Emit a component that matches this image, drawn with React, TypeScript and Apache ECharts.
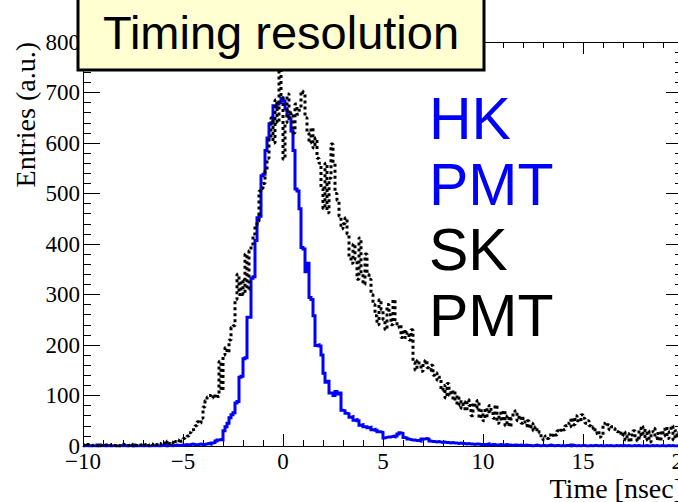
import React, { useEffect, useRef } from "react";
import * as echarts from "echarts";

// Histogram binning (ns)
const BIN_START = -10;
const BIN_WIDTH = 0.1;

// HK PMT (blue) entries per 0.1 ns bin, from -10 ns to 20 ns
const HK_PMT = [
  0, 1, 0, 0, 1, 0, 0, 2, 0, 1,
  0, 0, 1, 0, 0, 1, 0, 0, 1, 0,
  1, 0, 0, 1, 0, 2, 0, 0, 1, 0,
  0, 1, 0, 0, 1, 0, 1, 0, 0, 1,
  1, 0, 2, 1, 0, 1, 2, 1, 1, 2,
  2, 3, 2, 3, 4, 3, 2, 3, 4, 3,
  3, 4, 5, 4, 6, 7, 10, 12, 13, 12,
  30, 38, 45, 56, 62, 66, 85, 88, 136, 138,
  173, 175, 255, 255, 332, 335, 407, 452, 455, 535,
  538, 585, 610, 638, 640, 674, 672, 677, 680, 689,
  683, 668, 655, 648, 624, 585, 509, 505, 470, 393,
  390, 345, 362, 294, 290, 258, 199, 200, 198, 180,
  144, 126, 128, 105, 105, 100, 108, 103, 105, 71,
  70, 65, 64, 57, 58, 51, 52, 50, 41, 42,
  38, 38, 36, 37, 32, 33, 31, 28, 28, 27,
  16, 17, 18, 18, 19, 18, 20, 24, 26, 25,
  17, 16, 14, 13, 12, 12, 11, 11, 10, 14,
  14, 15, 14, 10, 9, 9, 8, 9, 8, 7,
  8, 7, 7, 6, 7, 6, 6, 5, 6, 5,
  5, 4, 5, 4, 4, 3, 4, 4, 3, 3,
  3, 3, 4, 2, 3, 3, 2, 2, 3, 2,
  2, 3, 2, 2, 1, 2, 2, 1, 2, 1,
  1, 2, 1, 1, 0, 1, 2, 1, 0, 1,
  1, 0, 1, 2, 1, 0, 1, 1, 0, 1,
  0, 1, 1, 0, 2, 1, 0, 1, 0, 1,
  1, 0, 0, 1, 0, 1, 1, 0, 1, 0,
  0, 1, 0, 1, 0, 0, 1, 0, 1, 0,
  1, 0, 1, 0, 0, 1, 0, 1, 0, 0,
  0, 1, 0, 0, 1, 0, 1, 0, 0, 1,
  0, 0, 1, 0, 1, 0, 0, 1, 0, 0,
];

// SK PMT (black dotted) entries per 0.1 ns bin, from -10 ns to 20 ns
const SK_PMT = [
  2, 0, 3, 1, 0, 2, 1, 0, 3, 1,
  0, 2, 1, 0, 3, 1, 0, 2, 0, 1,
  3, 0, 1, 2, 0, 4, 1, 0, 2, 3,
  1, 3, 0, 2, 4, 1, 3, 2, 5, 3,
  6, 3, 10, 5, 8, 4, 9, 12, 6, 10,
  15, 18, 20, 26, 32, 33, 40, 48, 45, 55,
  77, 90, 97, 100, 95, 102, 95, 98, 168, 110,
  180, 195, 185, 210, 235, 238, 290, 340, 300, 328,
  300, 380, 310, 387, 400, 420, 435, 445, 505, 510,
  520, 545, 570, 610, 650, 600, 685, 640, 758, 690,
  568, 640, 697, 650, 660, 620, 677, 657, 665, 703,
  700, 650, 620, 600, 630, 590, 610, 570, 560, 510,
  470, 560, 462, 530, 598, 560, 500, 486, 455, 430,
  440, 452, 420, 375, 362, 400, 370, 330, 412, 345,
  320, 380, 340, 330, 300, 280, 258, 240, 290, 270,
  250, 230, 280, 260, 240, 290, 250, 235, 240, 215,
  230, 215, 225, 210, 230, 165, 150, 170, 160, 148,
  165, 170, 155, 150, 160, 140, 145, 130, 136, 110,
  120, 95, 124, 100, 110, 90, 105, 80, 95, 75,
  88, 70, 92, 80, 60, 85, 75, 90, 55, 70,
  50, 75, 60, 80, 70, 55, 81, 45, 65, 50,
  70, 40, 60, 38, 55, 65, 70, 50, 60, 45,
  55, 40, 50, 35, 45, 30, 38, 26, 28, 15,
  12, 20, 15, 22, 18, 25, 22, 30, 28, 35,
  32, 40, 45, 38, 55, 42, 60, 50, 48, 62,
  55, 45, 50, 40, 35, 38, 25, 30, 18, 22,
  45, 40, 42, 32, 38, 35, 30, 28, 30, 20,
  28, 12, 25, 8, 22, 30, 15, 10, 35, 20,
  38, 12, 30, 8, 28, 35, 15, 25, 10, 30,
  20, 38, 15, 28, 40, 12, 30, 20, 35, 25,
];

const X_MIN = -10;
const X_MAX = 20;
const X_STEP = 5;
const Y_MIN = 0;
const Y_MAX = 800;
const Y_STEP = 100;

const TITLE = "Timing resolution";
const X_TITLE = "Time [nsec]";
const Y_TITLE = "Entries (a.u.)";
const LEGEND_LINES = [
  { text: "HK", color: "#0000ff" },
  { text: "PMT", color: "#0000ff" },
  { text: "SK", color: "#000000" },
  { text: "PMT", color: "#000000" },
];

function stepPoints(values: number[]): [number, number][] {
  const pts: [number, number][] = [];
  values.forEach((v, i) => {
    const lo = +(BIN_START + i * BIN_WIDTH).toFixed(3);
    const hi = +(BIN_START + (i + 1) * BIN_WIDTH).toFixed(3);
    pts.push([lo, v], [hi, v]);
  });
  return pts;
}

const SERIF = "'Liberation Serif', 'Times New Roman', serif";
const SANS = "'Liberation Sans', Arial, sans-serif";

function fmt(v: number) {
  return v < 0 ? "\u2212" + Math.abs(v) : String(v);
}

export default function App() {
  const ref = useRef<HTMLDivElement>(null);
  useEffect(() => {
    if (!ref.current) return;
    const chart = echarts.init(ref.current, undefined, { renderer: "svg" });
    const axisLine = { show: true, onZero: false, lineStyle: { color: "#000", width: 1 } };
    const xCommon = {
      type: "value" as const,
      min: X_MIN,
      max: X_MAX,
      interval: X_STEP,
      axisLine,
      axisTick: { show: true, inside: true, length: 12, lineStyle: { color: "#000" } },
      minorTick: { show: true, splitNumber: 5, length: 6, lineStyle: { color: "#000" } },
      splitLine: { show: false },
    };
    const yCommon = {
      type: "value" as const,
      min: Y_MIN,
      max: Y_MAX,
      interval: Y_STEP,
      axisLine,
      axisTick: { show: true, inside: true, length: 17, lineStyle: { color: "#000" } },
      minorTick: { show: true, splitNumber: 5, length: 8, lineStyle: { color: "#000" } },
      splitLine: { show: false },
    };
    const graphics: any[] = [
      {
        type: "rect",
        z: 100,
        shape: { x: 78, y: -10, width: 406, height: 80 },
        style: { fill: "#ffffd2", stroke: "#000", lineWidth: 3 },
      },
      {
        type: "text",
        z: 101,
        x: 281,
        y: 32,
        style: {
          text: TITLE,
          fill: "#000",
          font: `47px ${SANS}`,
          align: "center",
          verticalAlign: "middle",
        },
      },
      {
        type: "text",
        z: 50,
        x: 683,
        y: 488,
        style: {
          text: X_TITLE,
          fill: "#000",
          font: `28px ${SERIF}`,
          align: "right",
          verticalAlign: "middle",
        },
      },
      {
        type: "text",
        z: 50,
        x: 25,
        y: 42,
        rotation: Math.PI / 2,
        style: {
          text: Y_TITLE,
          fill: "#000",
          font: `28px ${SERIF}`,
          align: "right",
          verticalAlign: "middle",
        },
      },
    ];
    LEGEND_LINES.forEach((l, i) => {
      graphics.push({
        type: "text",
        z: 50,
        x: 429,
        y: 119 + i * 65.7,
        style: {
          text: l.text,
          fill: l.color,
          font: `59px ${SANS}`,
          align: "left",
          verticalAlign: "middle",
        },
      });
    });
    chart.setOption({
      animation: false,
      backgroundColor: "#fff",
      grid: {
        left: 83,
        top: 42,
        width: 600,
        height: 404,
        containLabel: false,
        outerBoundsMode: "none",
      },
      xAxis: [
        {
          ...xCommon,
          position: "bottom",
          axisLabel: {
            show: true,
            margin: 4,
            color: "#000",
            fontFamily: SERIF,
            fontSize: 23,
            formatter: (v: number) => fmt(v),
          },
        },
        { ...xCommon, position: "top", axisLabel: { show: false } },
      ],
      yAxis: [
        {
          ...yCommon,
          position: "left",
          axisLabel: {
            show: true,
            margin: 3,
            color: "#000",
            fontFamily: SERIF,
            fontSize: 23,
            formatter: (v: number) => fmt(v),
          },
        },
        { ...yCommon, position: "right", axisLabel: { show: false } },
      ],
      series: [
        {
          name: "HK PMT",
          type: "line",
          xAxisIndex: 0,
          yAxisIndex: 0,
          data: stepPoints(HK_PMT),
          showSymbol: false,
          symbol: "none",
          lineStyle: { color: "#0000ff", width: 3, join: "miter" },
          z: 2,
        },
        {
          name: "SK PMT",
          type: "line",
          xAxisIndex: 0,
          yAxisIndex: 0,
          data: stepPoints(SK_PMT),
          showSymbol: false,
          symbol: "none",
          lineStyle: { color: "#000000", width: 3, type: [3, 3] },
          z: 3,
        },
      ],
      graphic: graphics,
    });
    return () => chart.dispose();
  }, []);
  return (
    <div
      ref={ref}
      style={{ position: "fixed", left: 0, top: 0, width: 678, height: 502, background: "#fff" }}
    />
  );
}
